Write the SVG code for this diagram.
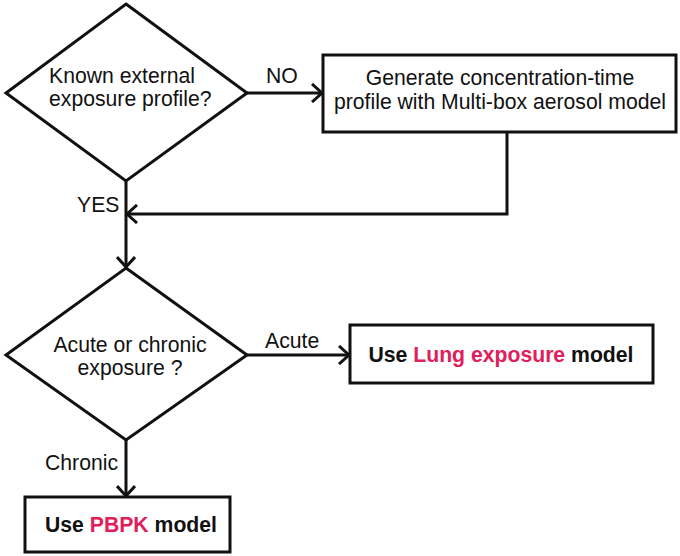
<svg xmlns="http://www.w3.org/2000/svg" width="680" height="556" viewBox="0 0 680 556">
<style>
.shape{fill:#fff;stroke:#111;stroke-width:3}
.line{fill:none;stroke:#111;stroke-width:3}
.t{font-family:"Liberation Sans",Arial,sans-serif;font-size:21.2px;fill:#111}
.b{font-weight:bold}
.red{fill:#e0205a}
</style>
<defs>
<marker id="arr" markerWidth="14" markerHeight="20" refX="11" refY="10" orient="auto" markerUnits="userSpaceOnUse">
<path d="M1,1 L11,10 L1,19" fill="none" stroke="#111" stroke-width="3"/>
</marker>
</defs>
<rect width="680" height="556" fill="#fff"/>
<g id="connectors">
<line class="line" x1="247" y1="93" x2="322" y2="93" marker-end="url(#arr)"/>
<polyline class="line" points="507,132 507,214 127,214" marker-end="url(#arr)"/>
<line class="line" x1="126" y1="181" x2="126" y2="267" marker-end="url(#arr)"/>
<line class="line" x1="247" y1="355" x2="349" y2="355" marker-end="url(#arr)"/>
<line class="line" x1="126" y1="440" x2="126" y2="496" marker-end="url(#arr)"/>
<text class="t" x="266" y="83">NO</text>
<text class="t" x="77" y="212">YES</text>
<text class="t" x="265" y="348">Acute</text>
<text class="t" x="45" y="470">Chronic</text>
</g>
<g id="known">
<polygon class="shape" points="126,4 247,93 126,181 6,93"/>
<text class="t" x="49" y="83">Known external</text>
<text class="t" x="49" y="106">exposure profile?</text>
</g>
<g id="generate">
<rect class="shape" x="323" y="55" width="353" height="77"/>
<text class="t" x="500" y="85" text-anchor="middle">Generate concentration-time</text>
<text class="t" x="500" y="109" text-anchor="middle">profile with Multi-box aerosol model</text>
</g>
<g id="acute">
<polygon class="shape" points="126,268 247,355 126,440 6,355"/>
<text class="t" x="130" y="352" text-anchor="middle">Acute or chronic</text>
<text class="t" x="130" y="375" text-anchor="middle">exposure ?</text>
</g>
<g id="lung">
<rect class="shape" x="350" y="325" width="303" height="58"/>
<text class="t b" x="501" y="362" text-anchor="middle">Use <tspan class="red">Lung exposure</tspan> model</text>
</g>
<g id="pbpk">
<rect class="shape" x="25" y="497" width="205" height="55"/>
<text class="t b" x="131" y="532" text-anchor="middle">Use <tspan class="red">PBPK</tspan> model</text>
</g>
</svg>
